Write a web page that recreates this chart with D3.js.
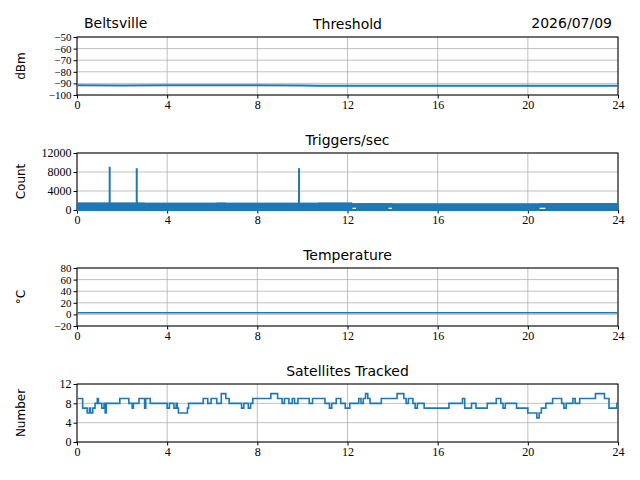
<!DOCTYPE html>
<html lang="en">
<head>
<meta charset="UTF-8">
<script src="https://d3js.org/d3.v7.min.js"></script>
<style>
  body { margin: 0; background: #fff; }
  text { font-family: "DejaVu Sans", sans-serif; }
  .tick text { font-family: "Liberation Serif", serif; font-size: 11px; }
  .grid line { stroke: #b0b0b0; stroke-width: 0.8; }
</style>
</head>
<body>
<svg id="fig" width="640" height="480"></svg>
<script>
// ---- data ----
const hourTicks = [0, 4, 8, 12, 16, 20, 24];
const thresholdHours = [0, 2, 4, 6, 8, 10, 10.7, 12, 16, 20, 24];
const thresholdVals = [-91.5, -91.8, -91.6, -91.7, -91.5, -91.8, -92, -92, -92, -92, -92];
const tempHours = [0, 24];
const tempVals = [3, 3];
// triggers: band of rapid fluctuation (hour, low, high), plus spike events
const trigBandHours = [0, 3, 3.05, 6.2, 6.6, 10.7, 12.2, 12.4, 13.8, 14, 20.5, 20.8, 24];
const trigBandLow  = [0, 0, 300, 0, 300, 0, 600, 0, 600, 0, 600, 0, 600];
const trigBandHigh = [1500, 1450, 1450, 1500, 1450, 1500, 1350, 1350, 1350, 1300, 1350, 1350, 1350];
const trigSpikeHours = [1.45, 2.65, 9.85];
const trigSpikeVals = [9100, 8800, 8800];
const satHours = [0,0.25,0.45,0.55,0.6,0.7,0.8,0.9,0.95,1.1,1.2,1.25,1.3,1.9,2.3,2.45,2.5,2.75,3.0,3.05,3.25,4.0,4.1,4.3,4.4,4.45,4.5,4.9,4.95,5.6,5.8,5.95,6.2,6.4,6.6,6.75,7.3,7.4,7.6,7.7,7.8,8.6,8.9,9.1,9.2,9.4,9.55,9.65,9.8,10.3,10.45,11.0,11.2,11.3,11.5,11.7,11.9,12.1,12.5,12.6,12.7,12.8,12.9,13.0,13.5,14.2,14.5,14.6,14.7,14.9,15.0,15.1,15.4,15.8,16.5,17.1,17.2,17.5,17.7,18.2,18.6,18.8,18.9,19.0,19.5,20.0,20.4,20.5,20.6,20.8,21.1,21.5,21.6,21.7,22.0,22.1,22.3,23.0,23.4,23.6,23.95,24];
const satVals  = [9,7,6,7,6,7,8,9,8,7,8,6,8,9,8,7,8,9,7,9,8,7,8,7,8,7,6,7,8,9,8,9,8,10,9,8,7,8,7,8,9,10,9,8,9,8,9,8,9,8,9,8,7,8,9,8,7,8,9,8,9,10,9,8,9,10,9,8,9,8,7,8,7,7,8,9,7,8,7,8,9,8,7,8,7,6,5,6,7,8,9,8,7,8,9,8,9,10,9,7,8,8];

// ---- layout ----
const svg = d3.select("#fig");
const L = 77, R = 618;
const x = d3.scaleLinear().domain([0, 24]).range([L, R]);
const blue = "#1f77b4";

function panel(top, bottom, domain, ticks, title, ylabel) {
  const y = d3.scaleLinear().domain(domain).range([bottom, top]);
  const g = svg.append("g");
  g.append("g").attr("class", "grid")
    .selectAll("line.v").data(hourTicks).join("line")
    .attr("x1", d => x(d)).attr("x2", d => x(d)).attr("y1", top).attr("y2", bottom);
  g.append("g").attr("class", "grid")
    .selectAll("line.h").data(ticks).join("line")
    .attr("x1", L).attr("x2", R).attr("y1", d => y(d)).attr("y2", d => y(d));
  g.append("g").attr("transform", `translate(0,${bottom})`)
    .call(d3.axisBottom(x).tickValues(hourTicks).tickSize(3.5).tickPadding(2).tickSizeOuter(0));
  g.append("g").attr("transform", `translate(${L},0)`)
    .call(d3.axisLeft(y).tickValues(ticks).tickSize(3.5).tickPadding(2).tickSizeOuter(0)
      .tickFormat(d => d < 0 ? "\u2212" + (-d) : d));
  g.selectAll(".domain").remove();
  g.selectAll(".tick text").attr("fill", "#000");
  g.selectAll(".tick text").style("font-size", "12px");
  g.append("rect").attr("x", L).attr("y", top).attr("width", R - L).attr("height", bottom - top)
    .attr("fill", "none").attr("stroke", "#000").attr("stroke-width", 1);
  g.append("text").attr("x", (L + R) / 2).attr("y", top - 8).attr("text-anchor", "middle")
    .attr("font-size", 14).text(title);
  g.append("text").attr("transform", `translate(${L - 52},${(top + bottom) / 2}) rotate(-90)`)
    .attr("text-anchor", "middle").attr("font-size", 12).text(ylabel);
  return { g, y, top, bottom };
}

// Threshold
const p1 = panel(37, 95, [-100, -50], [-100, -90, -80, -70, -60, -50], "Threshold", "dBm");
p1.g.selectAll("g.tick text").filter(function () { return this.parentNode.parentNode.getAttribute("transform").startsWith("translate(77"); })
  .style("font-size", "11px");
p1.g.append("path").datum(thresholdHours.map((h, i) => [h, thresholdVals[i]]))
  .attr("fill", "none").attr("stroke", blue).attr("stroke-width", 2)
  .attr("d", d3.line().x(d => x(d[0])).y(d => p1.y(d[1])));
svg.append("text").attr("x", 84).attr("y", 28).attr("font-size", 14).text("Beltsville");
svg.append("text").attr("x", 612).attr("y", 28).attr("font-size", 14).attr("text-anchor", "end").text("2026/07/09");

// Triggers
const p2 = panel(153, 210, [0, 12000], [0, 4000, 8000, 12000], "Triggers/sec", "Count");
p2.g.append("path").datum(trigBandHours.map((h, i) => [h, trigBandLow[i], trigBandHigh[i]]))
  .attr("fill", blue).attr("stroke", blue).attr("stroke-width", 1)
  .attr("d", d3.area().curve(d3.curveStepAfter).x(d => x(d[0])).y0(d => p2.y(d[1])).y1(d => p2.y(d[2])));
p2.g.append("line").attr("stroke", blue).attr("stroke-width", 2)
  .attr("x1", L).attr("x2", R).attr("y1", p2.y(0)).attr("y2", p2.y(0));
p2.g.selectAll("line.spike").data(trigSpikeHours).join("line")
  .attr("stroke", blue).attr("stroke-width", 2)
  .attr("x1", d => x(d)).attr("x2", d => x(d))
  .attr("y1", p2.y(1200)).attr("y2", (d, i) => p2.y(trigSpikeVals[i]));

// Temperature
const p3 = panel(268, 326, [-20, 80], [-20, 0, 20, 40, 60, 80], "Temperature", "\u00B0C");
p3.g.selectAll("g.tick text").filter(function () { return this.parentNode.parentNode.getAttribute("transform").startsWith("translate(77"); })
  .style("font-size", "11px");
p3.g.append("path").datum(tempHours.map((h, i) => [h, tempVals[i]]))
  .attr("fill", "none").attr("stroke", blue).attr("stroke-width", 1.5)
  .attr("d", d3.line().x(d => x(d[0])).y(d => p3.y(d[1])));

// Satellites
const p4 = panel(384, 442, [0, 12], [0, 4, 8, 12], "Satellites Tracked", "Number");
p4.g.append("path").datum(satHours.map((h, i) => [h, satVals[i]]))
  .attr("fill", "none").attr("stroke", blue).attr("stroke-width", 1.6)
  .attr("d", d3.line().curve(d3.curveStepAfter).x(d => x(d[0])).y(d => p4.y(d[1])));
</script>
</body>
</html>
